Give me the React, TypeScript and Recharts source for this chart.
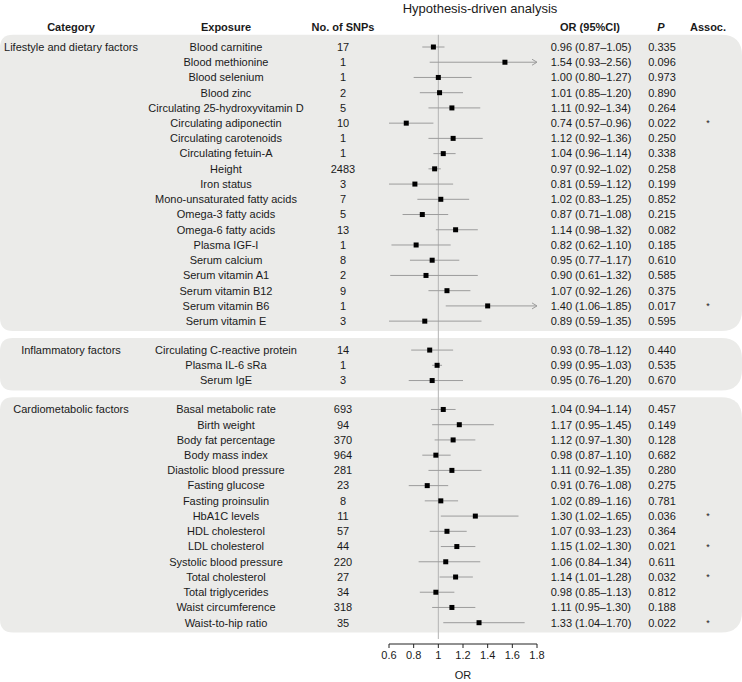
import {
  ScatterChart,
  Scatter,
  XAxis,
  YAxis,
  ReferenceLine,
  ReferenceArea,
} from "recharts";

const GROUPS = ["Lifestyle and dietary factors", "Inflammatory factors", "Cardiometabolic factors"];
const GROUP_SIZES = [19, 3, 15];

const EXPOSURES = [
  "Blood carnitine", "Blood methionine", "Blood selenium", "Blood zinc",
  "Circulating 25-hydroxyvitamin D", "Circulating adiponectin", "Circulating carotenoids",
  "Circulating fetuin-A", "Height", "Iron status", "Mono-unsaturated fatty acids",
  "Omega-3 fatty acids", "Omega-6 fatty acids", "Plasma IGF-I", "Serum calcium",
  "Serum vitamin A1", "Serum vitamin B12", "Serum vitamin B6", "Serum vitamin E",
  "Circulating C-reactive protein", "Plasma IL-6 sRa", "Serum IgE",
  "Basal metabolic rate", "Birth weight", "Body fat percentage", "Body mass index",
  "Diastolic blood pressure", "Fasting glucose", "Fasting proinsulin", "HbA1C levels",
  "HDL cholesterol", "LDL cholesterol", "Systolic blood pressure", "Total cholesterol",
  "Total triglycerides", "Waist circumference", "Waist-to-hip ratio",
];
const SNPS = [
  17, 1, 1, 2, 5, 10, 1, 1, 2483, 3, 7, 5, 13, 1, 8, 2, 9, 1, 3,
  14, 1, 3,
  693, 94, 370, 964, 281, 23, 8, 11, 57, 44, 220, 27, 34, 318, 35,
];
const OR_EST = [
  0.96, 1.54, 1.0, 1.01, 1.11, 0.74, 1.12, 1.04, 0.97, 0.81, 1.02, 0.87, 1.14, 0.82, 0.95, 0.9, 1.07, 1.4, 0.89,
  0.93, 0.99, 0.95,
  1.04, 1.17, 1.12, 0.98, 1.11, 0.91, 1.02, 1.3, 1.07, 1.15, 1.06, 1.14, 0.98, 1.11, 1.33,
];
const CI_LOW = [
  0.87, 0.93, 0.8, 0.85, 0.92, 0.57, 0.92, 0.96, 0.92, 0.59, 0.83, 0.71, 0.98, 0.62, 0.77, 0.61, 0.92, 1.06, 0.59,
  0.78, 0.95, 0.76,
  0.94, 0.95, 0.97, 0.87, 0.92, 0.76, 0.89, 1.02, 0.93, 1.02, 0.84, 1.01, 0.85, 0.95, 1.04,
];
const CI_HIGH = [
  1.05, 2.56, 1.27, 1.2, 1.34, 0.96, 1.36, 1.14, 1.02, 1.12, 1.25, 1.08, 1.32, 1.1, 1.17, 1.32, 1.26, 1.85, 1.35,
  1.12, 1.03, 1.2,
  1.14, 1.45, 1.3, 1.1, 1.35, 1.08, 1.16, 1.65, 1.23, 1.3, 1.34, 1.28, 1.13, 1.3, 1.7,
];
const P_VALUES = [
  0.335, 0.096, 0.973, 0.89, 0.264, 0.022, 0.25, 0.338, 0.258, 0.199, 0.852, 0.215, 0.082, 0.185, 0.61, 0.585, 0.375, 0.017, 0.595,
  0.44, 0.535, 0.67,
  0.457, 0.149, 0.128, 0.682, 0.28, 0.275, 0.781, 0.036, 0.364, 0.021, 0.611, 0.032, 0.812, 0.188, 0.022,
];

const X_MIN = 0.6;
const X_MAX = 1.8;
const X_TICKS = [0.6, 0.8, 1, 1.2, 1.4, 1.6, 1.8];

// layout
const W = 742;
const H = 682;
const ROW_PX = 15.23;
const FIRST_ROW_Y = 47;
const GROUP_GAP = 1.9;
const PLOT_BOTTOM = 644;
const FONT = '"Liberation Sans", Arial, Helvetica, sans-serif';
const INK = "#1a1a1a";

const toSlot = (py: number) => (py - FIRST_ROW_Y) / ROW_PX;
const TITLE_SLOT = toSlot(8.5);
const HEADER_SLOT = toSlot(27);

type Row = {
  group: number;
  first: boolean;
  exposure: string;
  snps: number;
  or: number;
  lo: number;
  hi: number;
  p: number;
  slot: number;
};

const rows: Row[] = [];
const groupSpans: { from: number; to: number }[] = [];
{
  let s = 0;
  let k = 0;
  GROUP_SIZES.forEach((n, g) => {
    const from = s;
    for (let i = 0; i < n; i++) {
      rows.push({
        group: g,
        first: i === 0,
        exposure: EXPOSURES[k],
        snps: SNPS[k],
        or: OR_EST[k],
        lo: CI_LOW[k],
        hi: CI_HIGH[k],
        p: P_VALUES[k],
        slot: s,
      });
      k++;
      s += 1;
    }
    groupSpans.push({ from, to: s - 1 });
    s += GROUP_GAP - 1;
  });
}

const fmt = (v: number) => v.toFixed(2);
const fmtP = (v: number) => v.toFixed(3);

function txt(x: number, y: number, s: string, extra: Record<string, unknown> = {}) {
  return (
    <text
      x={x}
      y={y}
      dy="0.35em"
      textAnchor="middle"
      fontFamily={FONT}
      fontSize={11}
      fill={INK}
      {...extra}
    >
      {s}
    </text>
  );
}

function RowTick(props: any) {
  const { y, payload } = props;
  const v = payload.value as number;
  if (Math.abs(v - TITLE_SLOT) < 1e-6) {
    return txt(480, y, "Hypothesis-driven analysis", { fontSize: 13 });
  }
  if (Math.abs(v - HEADER_SLOT) < 1e-6) {
    const b = { fontWeight: "bold" };
    return (
      <g>
        {txt(71, y, "Category", b)}
        {txt(226, y, "Exposure", b)}
        {txt(343, y, "No. of SNPs", b)}
        {txt(590, y, "OR (95%CI)", b)}
        {txt(661, y, "P", { fontWeight: "bold", fontStyle: "italic" })}
        {txt(708, y, "Assoc.", b)}
      </g>
    );
  }
  const r = rows.find((d) => Math.abs(d.slot - v) < 1e-6);
  if (!r) return null;
  return (
    <g>
      {r.first && txt(71, y, GROUPS[r.group])}
      {txt(226, y, r.exposure)}
      {txt(343, y, String(r.snps))}
      {txt(591, y, `${fmt(r.or)} (${fmt(r.lo)}\u2013${fmt(r.hi)})`)}
      {txt(662, y, fmtP(r.p))}
      {r.p < 0.05 && txt(708, y, "*", { fontSize: 9 })}
    </g>
  );
}

function Band(props: any) {
  const { y, height } = props;
  const x0 = 0;
  const x1 = W;
  const rl = 13;
  const rr = 21;
  const y0 = y;
  const y1 = y + height;
  const d = [
    `M${x0 + rl},${y0}`,
    `L${x1 - rr},${y0}`,
    `Q${x1},${y0} ${x1},${y0 + rr}`,
    `L${x1},${y1 - rr}`,
    `Q${x1},${y1} ${x1 - rr},${y1}`,
    `L${x0 + rl},${y1}`,
    `Q${x0},${y1} ${x0},${y1 - rl}`,
    `L${x0},${y0 + rl}`,
    `Q${x0},${y0} ${x0 + rl},${y0}`,
    "Z",
  ].join(" ");
  return <path d={d} fill="#ebebe9" stroke="none" />;
}

function CiLine(props: any, arrow: boolean) {
  const { x1, y1, x2, y2 } = props;
  return (
    <g>
      <line x1={x1} y1={y1} x2={x2} y2={y2} stroke="#9c9c9c" strokeWidth={1} />
      {arrow && (
        <path
          d={`M${x2 - 5},${y2 - 3} L${x2},${y2} L${x2 - 5},${y2 + 3}`}
          fill="none"
          stroke="#9c9c9c"
          strokeWidth={1}
        />
      )}
    </g>
  );
}

function Square(props: any) {
  const { cx, cy } = props;
  return <rect x={cx - 2.5} y={cy - 2.5} width={5} height={5} fill="#000" />;
}

export default function App() {
  const yTop = toSlot(0);
  const yBottom = toSlot(PLOT_BOTTOM);
  const yTicks = [TITLE_SLOT, HEADER_SLOT, ...rows.map((r) => r.slot)];

  return (
    <div style={{ width: W, height: H }}>
      <style>{"body{margin:0}"}</style>
      <ScatterChart
        width={W}
        height={H}
        margin={{ top: 0, right: 205, bottom: 0, left: 0 }}
      >
        {groupSpans.map((g, i) => (
          <ReferenceArea
            key={`band-${i}`}
            y1={g.from - 0.8}
            y2={g.to + 0.65}
            ifOverflow="visible"
            shape={Band}
          />
        ))}
        <XAxis
          type="number"
          dataKey="or"
          domain={[X_MIN, X_MAX]}
          ticks={X_TICKS}
          allowDataOverflow
          height={H - PLOT_BOTTOM}
          tickSize={4}
          tickMargin={3}
          stroke="#222"
          tick={{ fontSize: 11, fill: INK, fontFamily: FONT }}
          tickFormatter={(v: number) => String(v)}
          label={{
            value: "OR",
            position: "insideBottom",
            offset: 3,
            fontSize: 11,
            fill: INK,
            fontFamily: FONT,
          }}
        />
        <YAxis
          type="number"
          dataKey="slot"
          domain={[yTop, yBottom]}
          reversed
          allowDataOverflow
          width={389}
          ticks={yTicks}
          interval={0}
          axisLine={false}
          tickLine={false}
          tick={RowTick}
        />
        <ReferenceLine
          segment={[
            { x: 1, y: -0.8 },
            { x: 1, y: toSlot(639) },
          ]}
          stroke="#b4b4b4"
          strokeWidth={1}
        />
        {rows.map((r, i) => (
          <ReferenceLine
            key={`ci-${i}`}
            segment={[
              { x: Math.max(r.lo, X_MIN), y: r.slot },
              { x: Math.min(r.hi, X_MAX), y: r.slot },
            ]}
            shape={(p: any) => CiLine(p, r.hi > X_MAX)}
          />
        ))}
        <Scatter data={rows} shape={Square} isAnimationActive={false} />
      </ScatterChart>
    </div>
  );
}
